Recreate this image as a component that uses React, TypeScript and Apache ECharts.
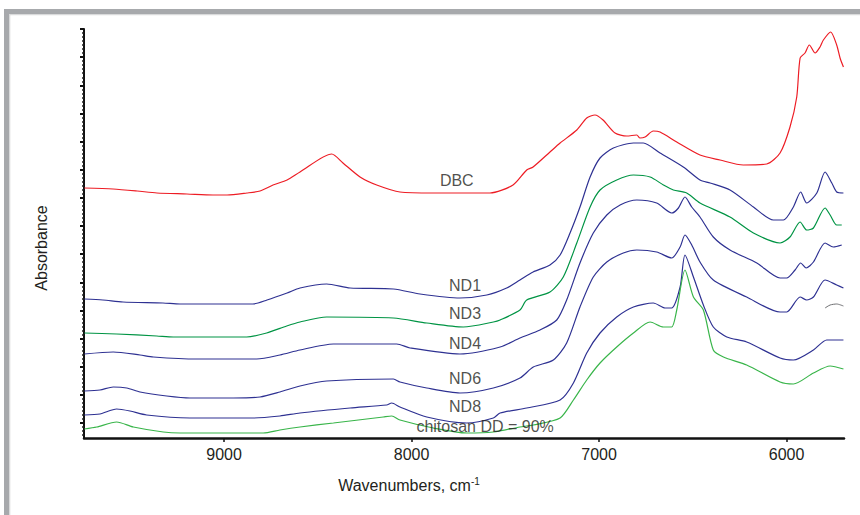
import React, { useEffect, useRef } from "react";
import * as echarts from "echarts";

// x: wavenumber (cm-1), y: absorbance (arbitrary units, offset spectra)
const wavenumberTicks = [6000, 7000, 8000, 9000];

const dbc: [number, number][] = [
  [9745, 2.50], [9592, 2.49], [9464, 2.47], [9358, 2.45], [9198, 2.44], [9059, 2.43], [8984, 2.43],
  [8878, 2.45], [8808, 2.47], [8739, 2.53], [8664, 2.58], [8595, 2.66], [8426, 2.84], [8366, 2.75],
  [8275, 2.61], [8186, 2.53], [8062, 2.46], [7886, 2.45], [7706, 2.45], [7582, 2.45], [7459, 2.53],
  [7386, 2.68], [7352, 2.71], [7262, 2.86], [7208, 2.95], [7119, 3.08], [7066, 3.20], [7022, 3.23],
  [6979, 3.18], [6915, 3.05], [6853, 3.02], [6799, 3.03], [6782, 3.00], [6755, 3.01], [6711, 3.07],
  [6675, 3.06], [6586, 2.96], [6462, 2.83], [6355, 2.78], [6231, 2.73], [6106, 2.74], [6035, 2.85],
  [5982, 3.11], [5946, 3.41], [5928, 3.80], [5902, 3.85], [5879, 3.93], [5848, 3.85], [5822, 3.91],
  [5804, 3.98], [5765, 4.06], [5733, 3.93], [5715, 3.80], [5697, 3.71],
];

const nd1: [number, number][] = [
  [9745, 1.39], [9646, 1.38], [9539, 1.36], [9326, 1.35], [9235, 1.34], [8846, 1.34], [8771, 1.38],
  [8664, 1.45], [8595, 1.50], [8453, 1.54], [8328, 1.50], [8097, 1.49], [7955, 1.44], [7742, 1.40],
  [7599, 1.43], [7493, 1.50], [7422, 1.58], [7352, 1.66], [7262, 1.73], [7208, 1.83], [7155, 2.05],
  [7102, 2.31], [7048, 2.61], [6995, 2.80], [6924, 2.90], [6817, 2.95], [6764, 2.95], [6675, 2.85],
  [6551, 2.71], [6462, 2.58], [6408, 2.55], [6302, 2.48], [6177, 2.31], [6071, 2.18], [6017, 2.18],
  [5964, 2.31], [5925, 2.46], [5893, 2.35], [5839, 2.45], [5795, 2.66], [5759, 2.55], [5733, 2.46],
  [5697, 2.45],
];

const nd3: [number, number][] = [
  [9745, 1.05], [9573, 1.04], [9359, 1.02], [9271, 1.01], [8879, 1.01], [8773, 1.05], [8666, 1.12],
  [8595, 1.16], [8453, 1.21], [8097, 1.20], [7919, 1.15], [7724, 1.11], [7564, 1.16], [7528, 1.18],
  [7422, 1.28], [7386, 1.38], [7262, 1.46], [7191, 1.61], [7119, 1.95], [7048, 2.31], [6995, 2.48],
  [6906, 2.58], [6817, 2.63], [6728, 2.61], [6657, 2.53], [6604, 2.48], [6533, 2.45], [6462, 2.35],
  [6302, 2.21], [6177, 2.05], [6035, 1.95], [5982, 2.01], [5928, 2.16], [5893, 2.08], [5857, 2.10],
  [5795, 2.30], [5768, 2.23], [5733, 2.13], [5706, 2.13],
];

const nd4: [number, number][] = [
  [9745, 0.84], [9591, 0.86], [9448, 0.83], [9377, 0.81], [9146, 0.79], [8826, 0.79], [8702, 0.83],
  [8595, 0.88], [8417, 0.94], [8079, 0.94], [8008, 0.90], [7742, 0.84], [7528, 0.91], [7422, 1.00],
  [7315, 1.08], [7226, 1.18], [7173, 1.38], [7102, 1.75], [7031, 2.05], [6959, 2.23], [6888, 2.33],
  [6799, 2.38], [6693, 2.35], [6613, 2.25], [6577, 2.30], [6542, 2.41], [6506, 2.31], [6462, 2.21],
  [6391, 2.01], [6302, 1.88], [6159, 1.75], [6035, 1.60], [5999, 1.60], [5955, 1.68], [5925, 1.75],
  [5896, 1.70], [5857, 1.76], [5795, 1.95], [5751, 1.91], [5706, 1.93],
];

const nd6: [number, number][] = [
  [9745, 0.47], [9662, 0.48], [9591, 0.51], [9519, 0.50], [9448, 0.46], [9306, 0.42], [9182, 0.40],
  [8951, 0.40], [8808, 0.41], [8702, 0.46], [8595, 0.52], [8453, 0.57], [8097, 0.59], [8062, 0.56],
  [7919, 0.50], [7742, 0.45], [7564, 0.50], [7422, 0.60], [7351, 0.71], [7244, 0.78], [7173, 0.95],
  [7102, 1.31], [7031, 1.61], [6959, 1.76], [6871, 1.85], [6799, 1.88], [6693, 1.86], [6613, 1.80],
  [6568, 1.91], [6542, 2.03], [6506, 1.93], [6462, 1.76], [6391, 1.58], [6213, 1.41], [6035, 1.26],
  [5999, 1.26], [5928, 1.41], [5893, 1.38], [5857, 1.41], [5795, 1.58], [5733, 1.53], [5697, 1.50],
];

const nd8: [number, number][] = [
  [9745, 0.23], [9662, 0.24], [9573, 0.29], [9502, 0.27], [9413, 0.23], [9182, 0.20], [8844, 0.20],
  [8702, 0.22], [8595, 0.25], [8328, 0.30], [8133, 0.33], [8106, 0.35], [8062, 0.31], [7919, 0.21],
  [7706, 0.15], [7564, 0.20], [7528, 0.25], [7386, 0.30], [7208, 0.38], [7137, 0.55], [7066, 0.85],
  [6995, 1.05], [6906, 1.21], [6817, 1.31], [6711, 1.35], [6648, 1.30], [6613, 1.30], [6568, 1.51],
  [6542, 1.83], [6497, 1.61], [6444, 1.33], [6391, 1.11], [6319, 1.01], [6213, 0.96], [6035, 0.80],
  [5964, 0.78], [5857, 0.88], [5786, 0.98], [5697, 0.98],
];

const chitosan: [number, number][] = [
  [9745, 0.09], [9679, 0.11], [9573, 0.16], [9484, 0.11], [9324, 0.06], [9235, 0.05], [8791, 0.05],
  [8702, 0.08], [8595, 0.11], [8417, 0.15], [8151, 0.21], [8106, 0.22], [8062, 0.18], [7884, 0.10],
  [7706, 0.05], [7564, 0.06], [7422, 0.11], [7351, 0.13], [7208, 0.20], [7137, 0.38], [7066, 0.58],
  [6995, 0.75], [6906, 0.91], [6817, 1.05], [6728, 1.16], [6657, 1.11], [6613, 1.11], [6586, 1.28],
  [6542, 1.68], [6497, 1.41], [6444, 1.28], [6391, 0.88], [6337, 0.81], [6213, 0.73], [6035, 0.56],
  [5964, 0.54], [5857, 0.65], [5768, 0.72], [5697, 0.69],
];

const fragment: [number, number][] = [
  [5795, 1.30], [5768, 1.33], [5733, 1.34], [5697, 1.32],
];

const curveLabels: { name: string; value: [number, number] }[] = [
  { name: "DBC", value: [7759, 2.58] },
  { name: "ND1", value: [7715, 1.53] },
  { name: "ND3", value: [7715, 1.25] },
  { name: "ND4", value: [7715, 0.95] },
  { name: "ND6", value: [7715, 0.6] },
  { name: "ND8", value: [7715, 0.32] },
  { name: "chitosan DD = 90%", value: [7608, 0.12] },
];

const FONT = "'Liberation Sans', Arial, Helvetica, sans-serif";
const TEXT = "#231f20";

export default function App() {
  const ref = useRef<HTMLDivElement>(null);

  useEffect(() => {
    if (!ref.current) return;
    const chart = echarts.init(ref.current, undefined, { renderer: "svg" });

    const line = (name: string, data: [number, number][], color: string, width = 1.2) => ({
      name,
      type: "line",
      data,
      xAxisIndex: 0,
      yAxisIndex: 0,
      showSymbol: false,
      symbol: "none",
      smooth: 0.25,
      silent: true,
      lineStyle: { color, width },
      z: 3,
    });

    chart.setOption({
      animation: false,
      backgroundColor: "#ffffff",
      textStyle: { fontFamily: FONT },
      grid: { left: 84, right: 16, top: 29, bottom: 77, containLabel: false },
      xAxis: {
        type: "value",
        inverse: true,
        min: 5694,
        max: 9747,
        axisLine: { show: true, onZero: false, lineStyle: { color: "#111", width: 2.5 } },
        axisTick: {
          show: true,
          customValues: wavenumberTicks,
          length: 4,
          lineStyle: { color: "#111", width: 1.5 },
        },
        axisLabel: {
          customValues: wavenumberTicks,
          formatter: (v: number) => String(v),
          color: TEXT,
          fontSize: 16,
          fontFamily: FONT,
          margin: 8,
        },
        splitLine: { show: false },
      },
      yAxis: [
        {
          type: "value",
          min: 0,
          max: 4.09,
          show: false,
          splitLine: { show: false },
        },
        {
          type: "value",
          inverse: true,
          min: 0,
          max: 14.53,
          interval: 1,
          position: "left",
          axisLine: { show: true, onZero: false, lineStyle: { color: "#111", width: 2 } },
          axisTick: {
            show: true,
            customValues: [0, 1, 2, 3, 4, 5, 6, 7, 8, 9, 10, 11, 12, 13, 14],
            length: 4,
            lineStyle: { color: "#111", width: 2 },
          },
          minorTick: { show: true, splitNumber: 7, length: 2, lineStyle: { color: "#222", width: 1.5 } },
          axisLabel: { show: false },
          splitLine: { show: false },
          minorSplitLine: { show: false },
        },
      ],
      series: [
        line("DBC", dbc, "#ed1c24"),
        line("ND1", nd1, "#2e3192"),
        line("ND3", nd3, "#009444"),
        line("ND4", nd4, "#2e3192"),
        line("ND6", nd6, "#2e3192"),
        line("ND8", nd8, "#2e3192"),
        line("chitosan DD = 90%", chitosan, "#39b54a"),
        line("fragment", fragment, "#6d6e71", 1),
        {
          name: "labels",
          type: "scatter",
          data: curveLabels,
          symbolSize: 0,
          silent: true,
          z: 5,
          label: {
            show: true,
            position: "inside",
            formatter: (p: any) => p.name,
            color: TEXT,
            fontSize: 16,
            fontFamily: FONT,
          },
        },
      ],
      graphic: [
        { type: "rect", shape: { x: 4, y: 9, width: 856, height: 5 }, style: { fill: "#a7a9ac" }, silent: true },
        { type: "rect", shape: { x: 9, y: 14, width: 851, height: 1.3 }, style: { fill: "#d9dadb" }, silent: true },
        { type: "rect", shape: { x: 4, y: 9, width: 5, height: 506 }, style: { fill: "#a7a9ac" }, silent: true },
        { type: "rect", shape: { x: 9, y: 14, width: 1.3, height: 501 }, style: { fill: "#d9dadb" }, silent: true },
        {
          type: "text",
          x: 41,
          y: 248,
          rotation: Math.PI / 2,
          silent: true,
          style: {
            text: "Absorbance",
            align: "center",
            verticalAlign: "middle",
            fontSize: 16,
            fontFamily: FONT,
            fill: TEXT,
          },
        },
        {
          type: "text",
          x: 409,
          y: 485,
          silent: true,
          style: {
            text: "Wavenumbers, cm{sup|-1}",
            align: "center",
            verticalAlign: "middle",
            fontSize: 16,
            fontFamily: FONT,
            fill: TEXT,
            rich: {
              sup: { fontSize: 10, fontFamily: FONT, fill: TEXT, padding: [0, 0, 8, 0] },
            },
          },
        },
      ],
    });

    return () => chart.dispose();
  }, []);

  return (
    <div
      ref={ref}
      style={{ position: "fixed", left: 0, top: 0, width: 860, height: 515, background: "#fff" }}
    />
  );
}
